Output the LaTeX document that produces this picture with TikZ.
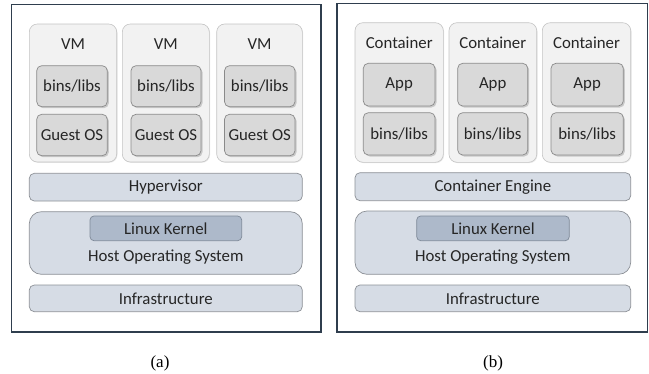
\documentclass[tikz,border=0pt]{standalone}
\usepackage{fontspec}
\setmainfont{Carlito}
\newfontfamily\capfont{Liberation Serif}
\usetikzlibrary{shadows,fit}
\definecolor{framecol}{HTML}{2F3E4E}
\definecolor{vmfill}{HTML}{F2F2F2}
\definecolor{vmdraw}{HTML}{C4C4C4}
\definecolor{infill}{HTML}{D9D9D9}
\definecolor{indraw}{HTML}{8A8A8A}
\definecolor{layfill}{HTML}{D6DCE5}
\definecolor{laydraw}{HTML}{8C9096}
\definecolor{kerfill}{HTML}{ADB9CA}
\definecolor{kerdraw}{HTML}{7F8A99}
\definecolor{txt}{HTML}{262626}
\tikzset{
  panel/.style={draw=framecol, line width=1.2pt, inner sep=0pt},
  vmbox/.style={draw=vmdraw, fill=vmfill, rounded corners=8pt, inner sep=0pt, line width=0.6pt,
    drop shadow={shadow xshift=0.8pt, shadow yshift=-0.8pt, fill=black!25, opacity=0.35}},
  inbox/.style={draw=indraw, fill=infill, rounded corners=5pt, inner sep=0pt, line width=0.7pt,
    drop shadow={shadow xshift=1.5pt, shadow yshift=-1.5pt, fill=black!40, opacity=0.45}},
  layer/.style={draw=laydraw, fill=layfill, rounded corners=5pt, inner sep=0pt, line width=0.7pt},
  hostbox/.style={draw=laydraw, fill=layfill, rounded corners=12pt, inner sep=0pt, line width=0.7pt},
  kernel/.style={draw=kerdraw, fill=kerfill, rounded corners=4pt, inner sep=0pt, line width=0.7pt},
  lbl/.style={text=txt, inner sep=0pt},
  mid/.style={label={[lbl]center:#1}},
  captext/.style={font=\capfont\fontsize{17}{20}\selectfont, text=black, inner sep=0pt}
}
\begin{document}
\begin{tikzpicture}[x=1pt, y=-1pt, font=\fontsize{16.8}{20}\selectfont]
\useasboundingbox (0,0) rectangle (649,373);
% ---------- panel (a) ----------
\node[panel, fit={(11.5,4.5) (321,332)}] (pa) {};
\node[vmbox, fit={(29.3,24) (116.7,162)}] (vm1) {};
\node[vmbox, fit={(122.3,24) (209.3,162)}] (vm2) {};
\node[vmbox, fit={(216.7,24) (302.3,162)}] (vm3) {};
\node[lbl] (vm1t) at (73,44) {VM};
\node[lbl] (vm2t) at (165.8,44) {VM};
\node[lbl] (vm3t) at (259.5,44) {VM};
\node[inbox, fit={(36.7,65.7) (107.3,106.7)}, mid={bins/libs}] (bl1) {};
\node[inbox, fit={(131,65.7) (201,106.7)}, mid={bins/libs}] (bl2) {};
\node[inbox, fit={(224.5,65.7) (295,106.7)}, mid={bins/libs}] (bl3) {};
\node[inbox, fit={(36.7,114.3) (107.3,155.7)}, mid={Guest OS}] (go1) {};
\node[inbox, fit={(131,114.3) (201,155.7)}, mid={Guest OS}] (go2) {};
\node[inbox, fit={(224.5,114.3) (295,155.7)}, mid={Guest OS}] (go3) {};
\node[layer, fit={(29.3,173.3) (302.3,201)}, mid={Hypervisor}] (hyp) {};
\node[hostbox, fit={(29.3,211.7) (302.3,274.3)}] (hosta) {};
\node[kernel, fit={(90,216) (241.7,240.7)}, mid={Linux Kernel}] (kera) {};
\node[lbl] (hostat) at (165.8,257.5) {Host Operating System};
\node[layer, fit={(29.3,285) (302.3,311.7)}, mid={Infrastructure}] (infa) {};
\node[captext] (capa) at (160,363) {(a)};
% ---------- panel (b) ----------
\node[panel, fit={(337,3.5) (647.8,332)}] (pb) {};
\node[vmbox, fit={(355,22.7) (443.3,162.3)}] (c1) {};
\node[vmbox, fit={(449,22.7) (536.7,162.3)}] (c2) {};
\node[vmbox, fit={(542.3,22.7) (630.7,162.3)}] (c3) {};
\node[lbl] (c1t) at (399.2,43) {Container};
\node[lbl] (c2t) at (492.8,43) {Container};
\node[lbl] (c3t) at (586.5,43) {Container};
\node[inbox, fit={(363.3,63.3) (435,106)}, mid={App}] (app1) {};
\node[inbox, fit={(457.7,63.3) (527.7,106)}, mid={App}] (app2) {};
\node[inbox, fit={(551,63.3) (623.3,106)}, mid={App}] (app3) {};
\node[inbox, fit={(363.3,112.7) (435,155)}, mid={bins/libs}] (cb1) {};
\node[inbox, fit={(457.7,112.7) (527.7,155)}, mid={bins/libs}] (cb2) {};
\node[inbox, fit={(551,112.7) (623.3,155)}, mid={bins/libs}] (cb3) {};
\node[layer, fit={(355,172.7) (630.7,200.7)}, mid={Container Engine}] (eng) {};
\node[hostbox, fit={(355,211) (630.7,274.3)}] (hostb) {};
\node[kernel, fit={(416.7,216) (569.3,240.7)}, mid={Linux Kernel}] (kerb) {};
\node[lbl] (hostbt) at (492.8,257.5) {Host Operating System};
\node[layer, fit={(355,285) (630.7,311.7)}, mid={Infrastructure}] (infb) {};
\node[captext] (capb) at (493,363) {(b)};
\end{tikzpicture}
\end{document}
